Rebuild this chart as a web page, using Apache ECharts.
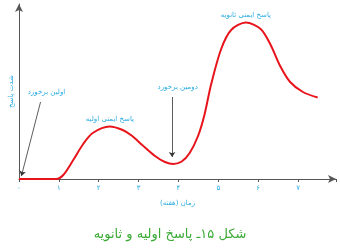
<!DOCTYPE html>
<html><head><meta charset="utf-8">
<script src="https://cdn.jsdelivr.net/npm/echarts@6/dist/echarts.min.js"></script>
<style>html,body{margin:0;padding:0;background:#fff}#c{width:340px;height:250px}</style>
</head><body><div id="c"></div>
<script>
// time (weeks) and response intensity
var weeks = [0, 0.5, 0.93, 1.11, 1.36, 1.61, 1.85, 2.27, 2.60, 2.84, 3.09, 3.41, 3.66, 3.87, 4.08, 4.28, 4.49, 4.65, 4.82, 5.07, 5.32, 5.69, 6.06, 6.30, 6.55, 6.80, 7.12, 7.49];
var response = [0, 0, 0, 4, 19, 35, 46, 52.5, 49, 43, 34, 23, 17, 15, 17.5, 26, 43, 64, 95, 130, 149, 156.5, 150, 135, 113, 97, 87, 81.5];
var tickLabels = ['۰','۱','۲','۳','۴','۵','۶','۷'];
var xName = 'زمان (هفته)';
var yName = 'شدت پاسخ';
var titleText = 'شکل ۱۵ـ پاسخ اولیه و ثانویه';
// annotations: [text, week, value]
var notes = [
  ['اولین برخورد', 0.69, 87],
  ['دومین برخورد', 3.98, 92],
  ['پاسخ ایمنی اولیه', 2.28, 60],
  ['پاسخ ایمنی ثانویه', 5.69, 164]
];
// arrows: [fromWeek, fromValue, toWeek, toValue]
var arrows = [
  [0.54, 77, 0.06, 3],
  [3.84, 82, 3.84, 22]
];

var FONT = '"DejaVu Sans", "Noto Sans", sans-serif';
var BLUE = '#29abe2';
var chart = echarts.init(document.getElementById('c'), null, {renderer: 'canvas'});
var data = weeks.map(function (w, i) { return [w, response[i]]; });
chart.setOption({
  animation: false,
  title: {
    text: titleText, left: 'center', top: 223,
    textStyle: {color: '#3aaa35', fontSize: 13, fontWeight: 'normal', fontFamily: FONT}
  },
  grid: {left: 15, right: 4, top: 4, bottom: 71},
  xAxis: {
    type: 'value', min: 0, max: 7.95, interval: 1,
    name: xName, nameLocation: 'middle', nameGap: 21,
    nameTextStyle: {color: BLUE, fontSize: 7, fontFamily: FONT},
    axisLine: {lineStyle: {color: '#555', width: 1}, symbol: ['none', 'arrow'], symbolSize: [6, 8]},
    axisTick: {show: true, length: 3, lineStyle: {color: '#555'}},
    axisLabel: {color: BLUE, fontSize: 7, margin: 6, fontFamily: FONT,
      formatter: function (v) { return Math.abs(v - Math.round(v)) < 1e-6 ? (tickLabels[Math.round(v)] || '') : ''; }},
    splitLine: {show: false}
  },
  yAxis: {
    type: 'value', min: 0, max: 175,
    name: yName, nameLocation: 'middle', nameGap: 4, nameRotate: 90,
    nameTextStyle: {color: BLUE, fontSize: 7, fontFamily: FONT},
    axisLine: {show: true, lineStyle: {color: '#555', width: 1}, symbol: ['none', 'arrow'], symbolSize: [6, 8]},
    axisTick: {show: false}, axisLabel: {show: false}, splitLine: {show: false}
  },
  series: [{
    type: 'line', data: data, smooth: 0.3, showSymbol: false,
    lineStyle: {color: '#e8141b', width: 2},
    markLine: {
      silent: true, symbol: ['none', 'arrow'], symbolSize: 5,
      lineStyle: {color: '#333', width: 0.8, type: 'solid'},
      label: {show: false},
      data: arrows.map(function (a) { return [{coord: [a[0], a[1]]}, {coord: [a[2], a[3]]}]; })
    },
    markPoint: {
      silent: true, symbol: 'circle', symbolSize: 0,
      label: {show: true, color: BLUE, fontSize: 7, fontFamily: FONT, formatter: '{b}', position: 'inside'},
      data: notes.map(function (n) { return {name: n[0], coord: [n[1], n[2]]}; })
    }
  }]
});
</script></body></html>
